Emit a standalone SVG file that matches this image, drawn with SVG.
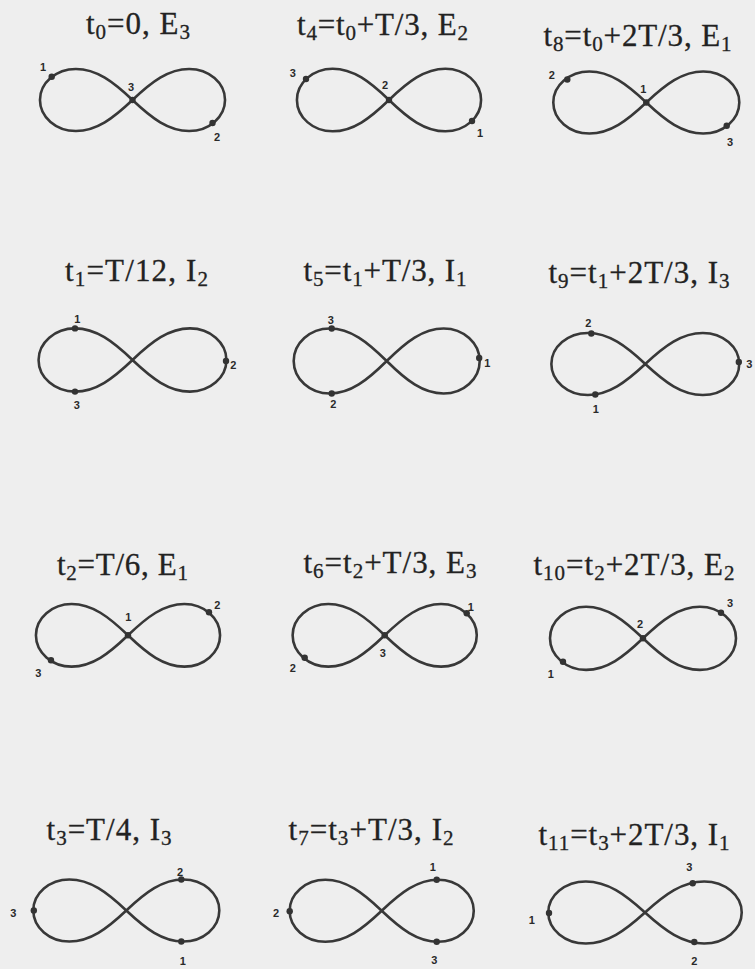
<svg xmlns="http://www.w3.org/2000/svg" xmlns:xlink="http://www.w3.org/1999/xlink" width="755" height="969" viewBox="0 0 755 969">
<style>
.t{font-family:"Liberation Serif","Times New Roman",serif;font-size:31px;fill:#222;stroke:#222;stroke-width:0.3;text-anchor:middle}
.s{font-size:21px}
.c{fill:none;stroke:#383838;stroke-width:2.6;stroke-linejoin:round}
.d{fill:#333}
.n{font-family:"Liberation Sans",Arial,sans-serif;font-weight:bold;font-size:11px;fill:#2a2a2a;text-anchor:middle}
</style>
<defs>
<path id="eight" class="c" vector-effect="non-scaling-stroke" d="M0,0 C19.34,-18.21 36.08,-31 56.92,-31 C76.82,-31 93,-17.08 93,0 C93,17.08 76.82,31 56.92,31 C36.08,31 19.34,18.21 0,0 C-19.34,-18.21 -36.08,-31 -56.92,-31 C-76.82,-31 -93,-17.08 -93,0 C-93,17.08 -76.82,31 -56.92,31 C-36.08,31 -19.34,18.21 0,0Z"/>
</defs>
<rect width="755" height="969" fill="#eeeeee"/>

<g id="p1">
<text class="t" x="138" y="34" textLength="104" lengthAdjust="spacing">t<tspan class="s" dy="5">0</tspan><tspan dy="-5">=0, E</tspan><tspan class="s" dy="5">3</tspan></text>
<g transform="translate(132.5,100)">
<use xlink:href="#eight" transform="scale(0.995,1)"/>
<circle class="d" cx="-80.8" cy="-23.3" r="3.2"/><circle class="d" cx="0" cy="0" r="3.2"/><circle class="d" cx="80" cy="23" r="3.2"/>
<text class="n" x="-89.5" y="-29">1</text><text class="n" x="-1.5" y="-9">3</text><text class="n" x="84.5" y="41">2</text>
</g>
</g>

<g id="p2">
<text class="t" x="382.5" y="35" textLength="171" lengthAdjust="spacing">t<tspan class="s" dy="5">4</tspan><tspan dy="-5">=t</tspan><tspan class="s" dy="5">0</tspan><tspan dy="-5">+T/3, E</tspan><tspan class="s" dy="5">2</tspan></text>
<g transform="translate(389,100)">
<use xlink:href="#eight" transform="scale(0.99,1.01)"/>
<circle class="d" cx="-83" cy="-21" r="3.2"/><circle class="d" cx="0" cy="0" r="3.2"/><circle class="d" cx="83" cy="21" r="3.2"/>
<text class="n" x="-96.3" y="-22.7">3</text><text class="n" x="-4" y="-11">2</text><text class="n" x="91" y="37.3">1</text>
</g>
</g>

<g id="p3">
<text class="t" x="637.5" y="46" textLength="188" lengthAdjust="spacing">t<tspan class="s" dy="5">8</tspan><tspan dy="-5">=t</tspan><tspan class="s" dy="5">0</tspan><tspan dy="-5">+2T/3, E</tspan><tspan class="s" dy="5">1</tspan></text>
<g transform="translate(646.3,102.5)">
<use xlink:href="#eight"/>
<circle class="d" cx="-79" cy="-23" r="3.2"/><circle class="d" cx="0" cy="0" r="3.2"/><circle class="d" cx="80.4" cy="23.2" r="3.2"/>
<text class="n" x="-94.6" y="-23.5">2</text><text class="n" x="-3" y="-9.2">1</text><text class="n" x="83.7" y="43.2">3</text>
</g>
</g>

<g id="p4">
<text class="t" x="136.5" y="281" textLength="143" lengthAdjust="spacing">t<tspan class="s" dy="5">1</tspan><tspan dy="-5">=T/12, I</tspan><tspan class="s" dy="5">2</tspan></text>
<g transform="translate(132.5,360)">
<use xlink:href="#eight" transform="scale(1.01,1.02)"/>
<circle class="d" cx="-57.5" cy="-31.6" r="3.2"/><circle class="d" cx="93.5" cy="1" r="3.2"/><circle class="d" cx="-57.5" cy="31.6" r="3.2"/>
<text class="n" x="-55.2" y="-36.7">1</text><text class="n" x="100.8" y="9">2</text><text class="n" x="-55.8" y="49">3</text>
</g>
</g>

<g id="p5">
<text class="t" x="385" y="281" textLength="163" lengthAdjust="spacing">t<tspan class="s" dy="5">5</tspan><tspan dy="-5">=t</tspan><tspan class="s" dy="5">1</tspan><tspan dy="-5">+T/3, I</tspan><tspan class="s" dy="5">1</tspan></text>
<g transform="translate(386.7,361)">
<use xlink:href="#eight" transform="scale(1,1.05)"/>
<circle class="d" cx="-55" cy="-32.5" r="3.2"/><circle class="d" cx="92.5" cy="-3" r="3.2"/><circle class="d" cx="-55" cy="32.5" r="3.2"/>
<text class="n" x="-56" y="-37">3</text><text class="n" x="100.6" y="6.3">1</text><text class="n" x="-53.4" y="47">2</text>
</g>
</g>

<g id="p6">
<text class="t" x="639" y="283" textLength="181" lengthAdjust="spacing">t<tspan class="s" dy="5">9</tspan><tspan dy="-5">=t</tspan><tspan class="s" dy="5">1</tspan><tspan dy="-5">+2T/3, I</tspan><tspan class="s" dy="5">3</tspan></text>
<g transform="translate(645.3,364)">
<use xlink:href="#eight" transform="scale(1.01,1)"/>
<circle class="d" cx="-54" cy="-30.5" r="3.2"/><circle class="d" cx="93.5" cy="-2" r="3.2"/><circle class="d" cx="-50" cy="30.5" r="3.2"/>
<text class="n" x="-57" y="-36.7">2</text><text class="n" x="104" y="4">3</text><text class="n" x="-49.6" y="49.3">1</text>
</g>
</g>

<g id="p7">
<text class="t" x="122.5" y="575" textLength="131" lengthAdjust="spacing">t<tspan class="s" dy="5">2</tspan><tspan dy="-5">=T/6, E</tspan><tspan class="s" dy="5">1</tspan></text>
<g transform="translate(128,635.3)">
<use xlink:href="#eight" transform="scale(0.99,1.01)"/>
<circle class="d" cx="0" cy="0" r="3.2"/><circle class="d" cx="81" cy="-23" r="3.2"/><circle class="d" cx="-77" cy="25" r="3.2"/>
<text class="n" x="0.3" y="-14.6">1</text><text class="n" x="89.3" y="-26.3">2</text><text class="n" x="-89.7" y="42">3</text>
</g>
</g>

<g id="p8">
<text class="t" x="390" y="573" textLength="173" lengthAdjust="spacing">t<tspan class="s" dy="5">6</tspan><tspan dy="-5">=t</tspan><tspan class="s" dy="5">2</tspan><tspan dy="-5">+T/3, E</tspan><tspan class="s" dy="5">3</tspan></text>
<g transform="translate(384.7,635.3)">
<use xlink:href="#eight" transform="scale(0.99,1.01)"/>
<circle class="d" cx="82" cy="-22" r="3.2"/><circle class="d" cx="0" cy="0" r="3.2"/><circle class="d" cx="-80" cy="22.5" r="3.2"/>
<text class="n" x="86" y="-24">1</text><text class="n" x="-2" y="22">3</text><text class="n" x="-92" y="37">2</text>
</g>
</g>

<g id="p9">
<text class="t" x="634" y="575" textLength="201" lengthAdjust="spacing">t<tspan class="s" dy="5">10</tspan><tspan dy="-5">=t</tspan><tspan class="s" dy="5">2</tspan><tspan dy="-5">+2T/3, E</tspan><tspan class="s" dy="5">2</tspan></text>
<g transform="translate(643,638.3)">
<use xlink:href="#eight" transform="scale(1,1.02)"/>
<circle class="d" cx="78" cy="-25.5" r="3.2"/><circle class="d" cx="0" cy="0" r="3.2"/><circle class="d" cx="-80" cy="23.5" r="3.2"/>
<text class="n" x="87" y="-31.6">3</text><text class="n" x="-3" y="-10.3">2</text><text class="n" x="-92.3" y="39.7">1</text>
</g>
</g>

<g id="p10">
<text class="t" x="109" y="840" textLength="125" lengthAdjust="spacing">t<tspan class="s" dy="5">3</tspan><tspan dy="-5">=T/4, I</tspan><tspan class="s" dy="5">3</tspan></text>
<g transform="translate(126.3,910.5)">
<use xlink:href="#eight"/>
<circle class="d" cx="55" cy="-31" r="3.2"/><circle class="d" cx="-92.5" cy="0" r="3.2"/><circle class="d" cx="55" cy="31" r="3.2"/>
<text class="n" x="53.7" y="-34.8">2</text><text class="n" x="-113" y="6.2">3</text><text class="n" x="56.4" y="54.2">1</text>
</g>
</g>

<g id="p11">
<text class="t" x="371" y="840" textLength="165" lengthAdjust="spacing">t<tspan class="s" dy="5">7</tspan><tspan dy="-5">=t</tspan><tspan class="s" dy="5">3</tspan><tspan dy="-5">+T/3, I</tspan><tspan class="s" dy="5">2</tspan></text>
<g transform="translate(381.7,910.8)">
<use xlink:href="#eight" transform="scale(0.99,1)"/>
<circle class="d" cx="55" cy="-31" r="3.2"/><circle class="d" cx="-92" cy="0.5" r="3.2"/><circle class="d" cx="55" cy="31" r="3.2"/>
<text class="n" x="51" y="-40.1">1</text><text class="n" x="-105.7" y="6.5">2</text><text class="n" x="52.6" y="53.2">3</text>
</g>
</g>

<g id="p12">
<text class="t" x="634" y="845" textLength="191" lengthAdjust="spacing">t<tspan class="s" dy="5">11</tspan><tspan dy="-5">=t</tspan><tspan class="s" dy="5">3</tspan><tspan dy="-5">+2T/3, I</tspan><tspan class="s" dy="5">1</tspan></text>
<g transform="translate(645,912.5)">
<use xlink:href="#eight" transform="scale(1.04,1)"/>
<circle class="d" cx="47.7" cy="-29.3" r="3.2"/><circle class="d" cx="-96" cy="0.5" r="3.2"/><circle class="d" cx="49.3" cy="29.5" r="3.2"/>
<text class="n" x="44.3" y="-41.2">3</text><text class="n" x="-113.3" y="11.5">1</text><text class="n" x="49.3" y="52.2">2</text>
</g>
</g>
</svg>
